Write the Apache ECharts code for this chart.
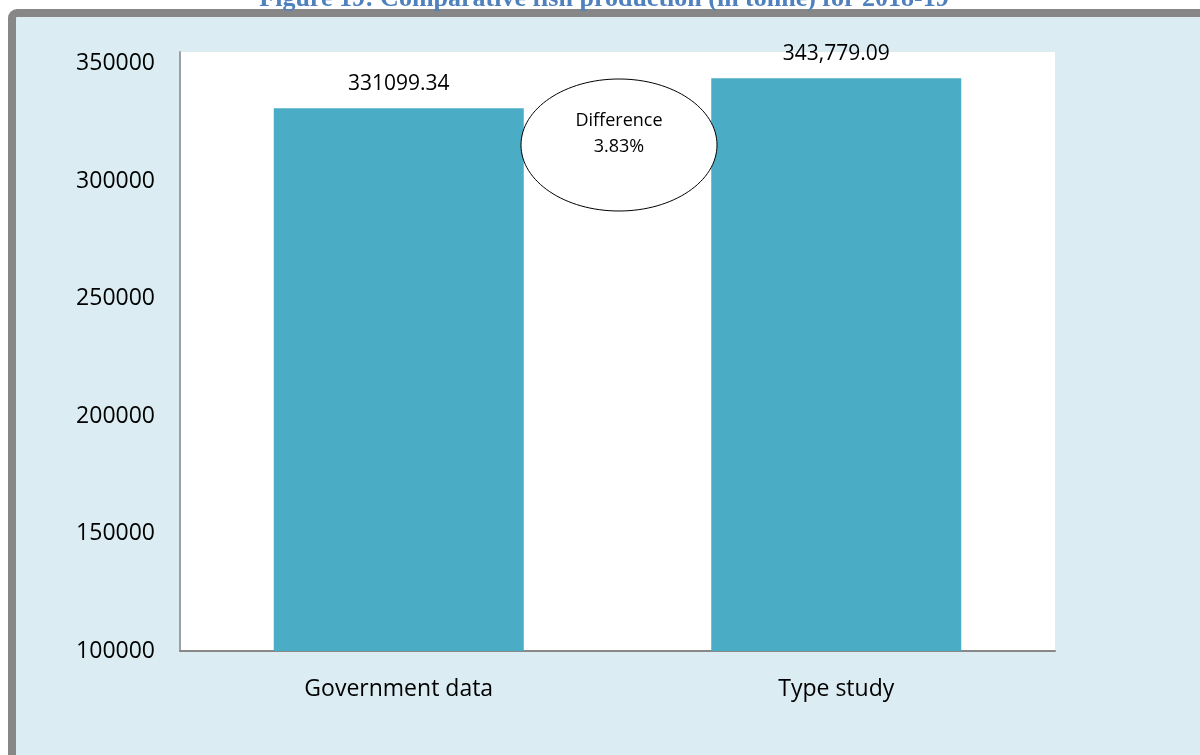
<!DOCTYPE html>
<html>
<head>
<meta charset="utf-8">
<script src="https://cdn.jsdelivr.net/npm/echarts@6/dist/echarts.min.js"></script>
<style>
html, body { margin: 0; padding: 0; background: #fff; }
#chart { width: 1200px; height: 755px; }
</style>
</head>
<body>
<div id="chart"></div>
<script>
// data
var categories = ['Government data', 'Type study'];
var production = [331099.34, 343779.09];
var valueLabels = ['331099.34', '343,779.09'];
var yMin = 100000, yStep = 50000, yTop = 355000;
var noteLines = ['Difference', '3.83%'];
var titleText = 'Figure 19: Comparative fish production (in tonne) for 2018-19';

var chartDom = document.getElementById('chart');
var myChart = echarts.init(chartDom);
var font = '"Open Sans", sans-serif';

var option = {
  backgroundColor: '#fff',
  animation: false,
  textStyle: { fontFamily: font },
  graphic: [
    {
      // panel with the grey frame on the left/top
      type: 'rect', z: -10, silent: true,
      shape: { x: 12, y: 13, width: 1400, height: 1000, r: 5 },
      style: { fill: '#DBEDF3', stroke: '#878787', lineWidth: 8 }
    },
    {
      type: 'text', z: 10, x: 604, y: 12,
      style: {
        text: titleText, align: 'center', verticalAlign: 'bottom',
        font: 'bold 26px "Liberation Serif", serif', fill: '#4F81BD'
      }
    },
    {
      type: 'ellipse', z: 100,
      shape: { cx: 619, cy: 145, rx: 98, ry: 66 },
      style: { fill: '#fff', stroke: '#000', lineWidth: 1 }
    },
    {
      type: 'text', z: 101, x: 619, y: 121,
      style: { text: noteLines[0], align: 'center', verticalAlign: 'middle',
        font: '18px ' + font, fill: '#000' }
    },
    {
      type: 'text', z: 101, x: 619, y: 147,
      style: { text: noteLines[1], align: 'center', verticalAlign: 'middle',
        font: '18px ' + font, fill: '#000' }
    }
  ],
  grid: {
    left: 180, right: 145, top: 52, bottom: 104,
    show: true, backgroundColor: '#fff', borderWidth: 0
  },
  xAxis: {
    type: 'category',
    data: categories,
    axisLine: { lineStyle: { color: '#888', width: 2 } },
    axisTick: { show: false },
    axisLabel: { color: '#000', fontSize: 23, margin: 27 }
  },
  yAxis: {
    type: 'value',
    min: yMin, max: yTop, interval: yStep,
    axisLine: { show: true, lineStyle: { color: '#a0a0a0', width: 2 } },
    axisTick: { show: false },
    splitLine: { show: false },
    axisLabel: {
      color: '#000', fontSize: 23, margin: 25, showMaxLabel: false,
      formatter: function (v) { return String(v); }
    }
  },
  series: [
    {
      type: 'bar',
      data: production,
      barWidth: 250,
      itemStyle: { color: '#4BACC6' },
      label: {
        show: true, position: 'top', distance: 14,
        color: '#000', fontSize: 21,
        formatter: function (p) { return valueLabels[p.dataIndex]; }
      }
    }
  ]
};

option && myChart.setOption(option);
</script>
</body>
</html>
